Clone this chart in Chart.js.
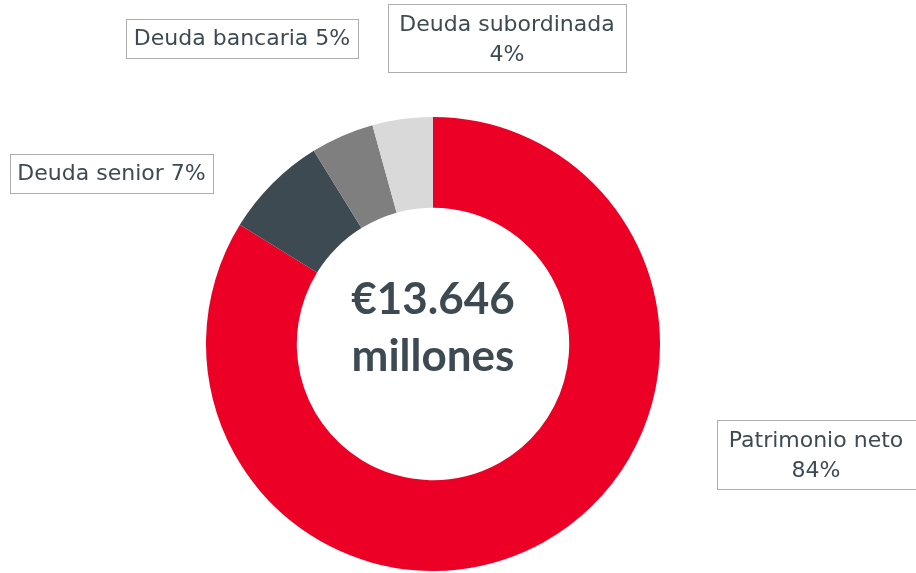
<!DOCTYPE html>
<html>
<head>
<meta charset="utf-8">
<script src="https://cdn.jsdelivr.net/npm/chart.js@4.4.1/dist/chart.umd.min.js"></script>
<style>
  html, body { margin: 0; padding: 0; background: #fff; }
  #wrap { width: 916px; height: 573px; position: relative; }
</style>
</head>
<body>
<div id="wrap"><canvas id="chart" width="916" height="573"></canvas></div>
<script>
// Datos
const categories = ["Patrimonio neto", "Deuda senior", "Deuda bancaria", "Deuda subordinada"];
const shares = [83.8, 7.4, 4.5, 4.3];
const pctLabels = ["84%", "7%", "5%", "4%"];
const colors = ["#EC0026", "#3E4A52", "#7F7F7F", "#D9D9D9"];
const totalLines = ["€13.646", "millones"];

// Cajas de etiquetas (posición en píxeles)
const boxes = [
  { x: 717, y: 420, w: 210, h: 69, lines: [categories[0], pctLabels[0]] },
  { x: 10, y: 154, w: 203, h: 39, lines: [categories[1] + " " + pctLabels[1]] },
  { x: 126, y: 19, w: 232, h: 39, lines: [categories[2] + " " + pctLabels[2]] },
  { x: 388, y: 4, w: 238, h: 68, lines: [categories[3], pctLabels[3]] },
];

const textColor = "#3E4A52";

const labelPlugin = {
  id: "labelBoxes",
  afterDraw(chart) {
    const ctx = chart.ctx;
    ctx.save();
    // cajas punteadas
    boxes.forEach((b) => {
      ctx.strokeStyle = "#5a5a5a";
      ctx.lineWidth = 1;
      ctx.setLineDash([1, 1]);
      ctx.strokeRect(b.x + 0.5, b.y + 0.5, b.w, b.h);
      ctx.setLineDash([]);
      ctx.fillStyle = textColor;
      ctx.font = "22px 'DejaVu Sans'";
      ctx.textAlign = "center";
      ctx.textBaseline = "middle";
      const cx = b.x + b.w / 2 + (b === boxes[0] ? -6 : 0);
      if (b.lines.length === 1) {
        ctx.fillText(b.lines[0], cx, b.y + b.h / 2 + 1);
      } else {
        ctx.fillText(b.lines[0], cx, b.y + 21);
        ctx.fillText(b.lines[1], cx, b.y + 51);
      }
    });
    // texto central
    const meta = chart.getDatasetMeta(0).data[0];
    ctx.fillStyle = textColor;
    ctx.font = "bold 44px Lato";
    ctx.textAlign = "center";
    ctx.textBaseline = "middle";
    ctx.fillText(totalLines[0], meta.x, meta.y - 44);
    ctx.fillText(totalLines[1], meta.x, meta.y + 13);
    ctx.restore();
  },
};

new Chart(document.getElementById("chart"), {
  type: "doughnut",
  data: {
    labels: categories,
    datasets: [
      {
        data: shares,
        backgroundColor: colors,
        borderWidth: 0,
      },
    ],
  },
  options: {
    responsive: false,
    animation: false,
    cutout: "60%",
    layout: { padding: { top: 117, bottom: 2, left: 206, right: 256 } },
    plugins: {
      legend: { display: false },
      tooltip: { enabled: false },
    },
  },
  plugins: [labelPlugin],
});
</script>
</body>
</html>
